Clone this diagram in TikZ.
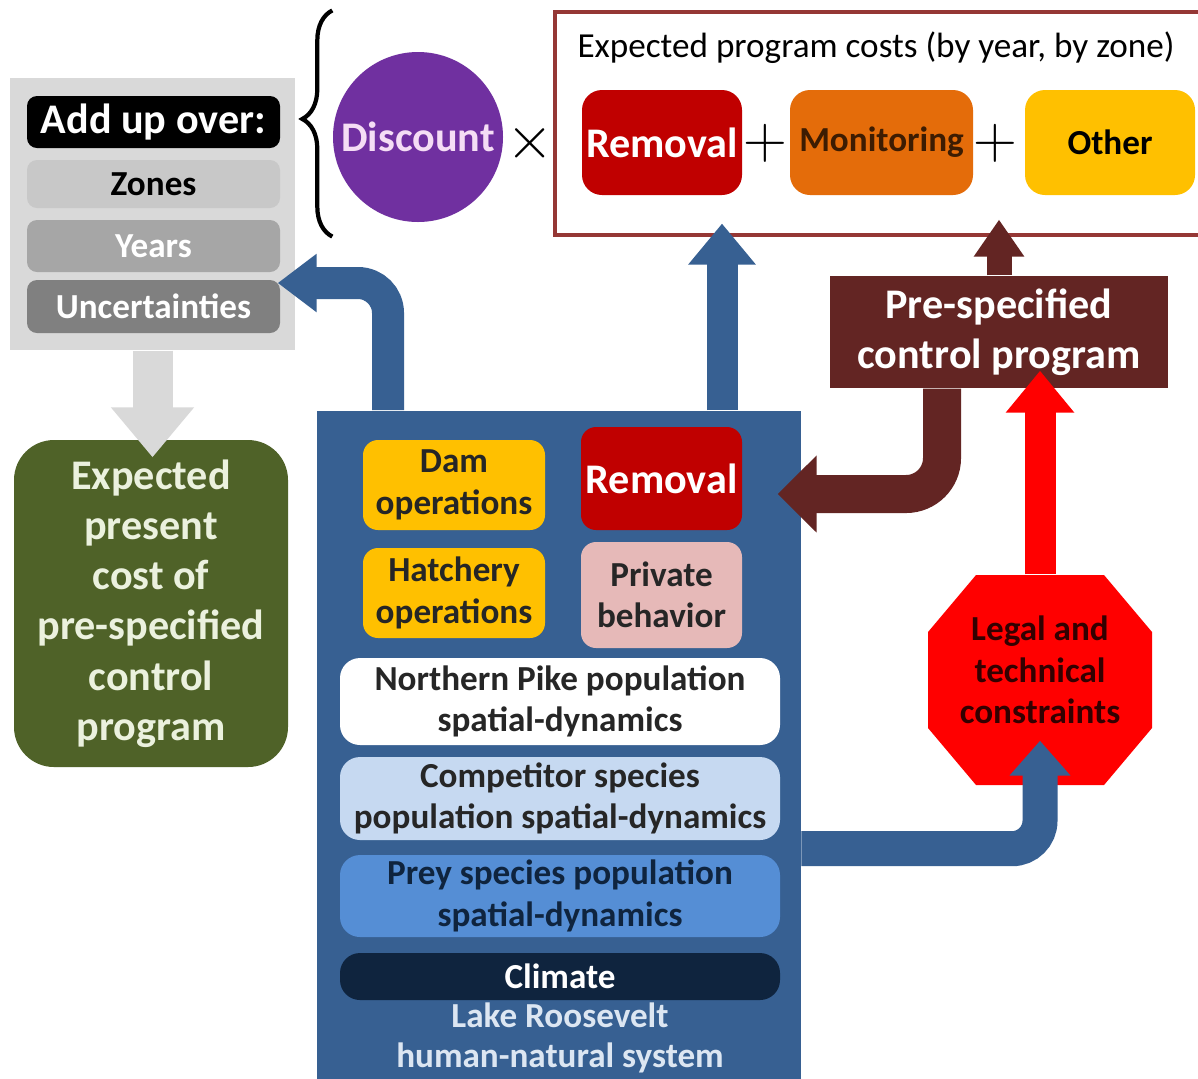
\documentclass[tikz,border=0pt]{standalone}
\usepackage{fontspec}
\setmainfont{Carlito}
\usetikzlibrary{arrows.meta,decorations.pathreplacing}

\definecolor{lakeblue}{HTML}{376092}
\definecolor{panelgray}{HTML}{D9D9D9}
\definecolor{zonegray}{HTML}{C8C8C8}
\definecolor{yeargray}{HTML}{A6A6A6}
\definecolor{uncgray}{HTML}{808080}
\definecolor{olive}{HTML}{4F6228}
\definecolor{cream}{HTML}{EBF1DE}
\definecolor{disccol}{HTML}{7030A0}
\definecolor{disctext}{HTML}{F5DDF5}
\definecolor{costborder}{HTML}{953735}
\definecolor{removalred}{HTML}{C00000}
\definecolor{monorange}{HTML}{E46C0A}
\definecolor{montext}{HTML}{3D1C02}
\definecolor{othergold}{HTML}{FFC000}
\definecolor{prespecbrown}{HTML}{632523}
\definecolor{pinkbox}{HTML}{E6B9B8}
\definecolor{lightblue}{HTML}{C6D9F1}
\definecolor{midblue}{HTML}{558ED5}
\definecolor{navy}{HTML}{0F243E}
\definecolor{laketext}{HTML}{DCE6F2}
\definecolor{stopred}{HTML}{FF0000}
\definecolor{stoptext}{HTML}{330000}
\definecolor{darktext}{HTML}{262626}

\begin{document}
\begin{tikzpicture}[x=0.1mm, y=-0.1mm,
    every node/.style={inner sep=0pt, align=center},
    box/.style={rectangle, rounded corners=1.5mm, font=\bfseries\fontsize{10}{11.8}\selectfont},
    bigfont/.style={font=\bfseries\fontsize{12}{14.3}\selectfont},
    block/.style n args={3}{line width=#1, -{Triangle[width=#2, length=#3]}}]

    \fill[white] (0,0) rectangle (1198,1078);
    \useasboundingbox (0,0) rectangle (1198,1078);

    % summing panel
    \node[fill=panelgray, minimum width=28.5mm, minimum height=27.2mm] (panel) at (152.5,214) {};
    \node[box, bigfont, fill=black, text=white, rounded corners=1mm, minimum width=25.3mm, minimum height=5.2mm] (addup) at (153.5,122) {Add up over:};
    \node[box, fill=zonegray, text=black, rounded corners=1mm, minimum width=25.3mm, minimum height=4.8mm] (zones) at (153.5,184) {Zones};
    \node[box, fill=yeargray, text=white, rounded corners=1mm, minimum width=25.3mm, minimum height=5.2mm] (years) at (153.5,246) {Years};
    \node[box, fill=uncgray, text=white, rounded corners=1mm, minimum width=25.3mm, minimum height=5.3mm] (unc) at (153.5,306.5) {Uncertainties};

    \node[box, bigfont, fill=olive, text=cream, rounded corners=4mm, minimum width=27.4mm, minimum height=32.7mm] (total) at (151,603.5)
        {Expected\\present\\cost of\\pre-specified\\control\\program};

    % discounting and costs
    \node[circle, bigfont, fill=disccol, text=disctext, minimum size=17mm] (disc) at (418,137) {Discount};
    \node[font=\fontsize{17}{17}\selectfont] (times) at (530,143) {$\times$};

    \node[draw=costborder, line width=0.9pt, minimum width=64.6mm, minimum height=22.3mm] (costs) at (878,123.5) {};
    \node[font=\fontsize{10}{12}\selectfont] (costtitle) at (876,48) {Expected program costs (by year, by zone)};
    \node[box, bigfont, fill=removalred, text=white, rounded corners=2mm, minimum width=16mm, minimum height=10.5mm] (cremoval) at (662,142.5) {Removal};
    \node[box, fill=monorange, text=montext, rounded corners=2mm, minimum width=18.3mm, minimum height=10.5mm] (cmonitor) at (881.5,142.5) {Monitoring};
    \node[box, fill=othergold, text=black, rounded corners=2mm, minimum width=17mm, minimum height=10.5mm] (cother) at (1110,142.5) {Other};
    \node[font=\fontsize{16}{16}\selectfont] (plusa) at (765,143) {$+$};
    \node[font=\fontsize{16}{16}\selectfont] (plusb) at (995,143) {$+$};

    \draw[line width=1.2pt, decorate, decoration={brace, amplitude=3mm, aspect=0.52}]
        (disc.west |- costs.south) -- (disc.west |- costs.north);

    \node[bigfont, fill=prespecbrown, text=white, minimum width=33.8mm, minimum height=11.2mm] (prespec) at (999,332) {Pre-specified\\control program};

    % lake system
    \node[fill=lakeblue, minimum width=48.4mm, minimum height=68mm, anchor=north west] (sys) at (316,410) {};
    \node[box, fill=othergold, text=darktext, minimum width=18.2mm, minimum height=9mm] (dam) at (454,485) {Dam\\operations};
    \node[box, bigfont, fill=removalred, text=white, minimum width=16.1mm, minimum height=10.3mm] (sremoval) at (661.5,478.5) {Removal};
    \node[box, fill=othergold, text=darktext, minimum width=18.2mm, minimum height=9mm] (hatch) at (454,593) {Hatchery\\operations};
    \node[box, fill=pinkbox, text=darktext, minimum width=16.1mm, minimum height=10.6mm] (private) at (661.5,595) {Private\\behavior};
    \node[box, fill=white, text=darktext, rounded corners=2mm, minimum width=44mm, minimum height=8.7mm] (pike) at (560,701.5) {Northern Pike population\\spatial-dynamics};
    \node[box, fill=lightblue, text=darktext, rounded corners=2mm, minimum width=44mm, minimum height=8.3mm] (comp) at (560,798.5) {Competitor species\\population spatial-dynamics};
    \node[box, fill=midblue, text=navy, rounded corners=2mm, minimum width=44mm, minimum height=8.2mm] (prey) at (560,896) {Prey species population\\spatial-dynamics};
    \node[box, fill=navy, text=white, rounded corners=2mm, minimum width=44mm, minimum height=4.7mm] (climate) at (560,976.5) {Climate};
    \node[box, text=laketext, font=\bfseries\fontsize{10}{11.4}\selectfont] (lake) at (560,1038) {Lake Roosevelt\\human-natural system};

    % stop sign
    \fill[stopred] (976,575) -- (1104,575) -- (1152,632) -- (1152,728) -- (1104,785)
        -- (976,785) -- (928,728) -- (928,632) -- cycle;
    \node[box, text=stoptext, minimum width=22.4mm, minimum height=19mm] (legal) at (1040,670) {Legal and\\technical\\constraints};

    % arrows
    \coordinate (upfoot) at ([xshift=40.6mm]sys.north west);
    \coordinate (brownfoot) at ([xshift=-5.7mm]prespec.south);
    \coordinate (sysout) at ([yshift=-9.8mm]sys.east);

    \draw[panelgray, block={4mm}{8mm}{5mm}, shorten >=-1.8mm] (panel.south) -- (panel.south |- total.north);
    \draw[lakeblue, block={3.2mm}{5.6mm}{3.9mm}, rounded corners=3mm, shorten >=-0.3mm]
        ([xshift=7.2mm]sys.north west) |- ([yshift=2.35mm]unc.east);
    \draw[lakeblue, block={3.1mm}{6.5mm}{4.1mm}, shorten >=-1.3mm] (upfoot) -- (upfoot |- costs.south);
    \draw[prespecbrown, block={2.5mm}{4.8mm}{3.7mm}, shorten >=-1.7mm] (prespec.north) -- (prespec.north |- costs.south);
    \draw[prespecbrown, block={3.8mm}{7.5mm}{3.9mm}, rounded corners=3.6mm, shorten >=3.5mm]
        (brownfoot) |- ([yshift=-1.55mm]sremoval.east);
    \draw[stopred, block={3.1mm}{6.6mm}{4.2mm}, shorten >=-1.8mm] (legal.north) -- (legal.north |- prespec.south);
    \draw[lakeblue, block={3.5mm}{5.9mm}{3.5mm}, rounded corners=2.8mm, shorten >=-2.5mm]
        (sysout) -| (legal.south);
\end{tikzpicture}
\end{document}
